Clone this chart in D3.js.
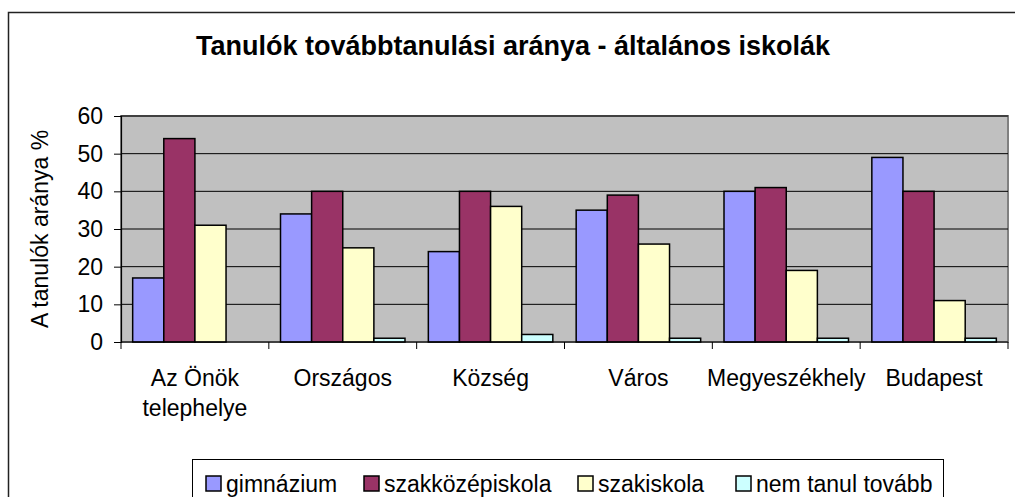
<!DOCTYPE html>
<html>
<head>
<meta charset="utf-8">
<script src="https://cdn.jsdelivr.net/npm/d3@7"></script>
<style>
body { margin: 0; background: #fff; }
svg { display: block; font-family: Arial, "Liberation Sans", sans-serif; }
</style>
</head>
<body>
<svg id="chart" width="1015" height="497"></svg>
<script>
var categories = [["Az Önök", "telephelye"], ["Országos"], ["Község"], ["Város"], ["Megyeszékhely"], ["Budapest"]];
var seriesNames = ["gimnázium", "szakközépiskola", "szakiskola", "nem tanul tovább"];
var seriesColors = ["#9999ff", "#993366", "#ffffcc", "#ccffff"];
var gimnazium = [17, 34, 24, 35, 40, 49];
var szakkozep = [54, 40, 40, 39, 41, 40];
var szakiskola = [31, 25, 36, 26, 19, 11];
var nemTanul = [0, 1, 2, 1, 1, 1];
var yTicks = [0, 10, 20, 30, 40, 50, 60];

var values = [gimnazium, szakkozep, szakiskola, nemTanul];

var svg = d3.select("#chart");
var plot = {left: 121, top: 116, right: 1008, bottom: 342};

// outer frame
svg.append("rect").attr("x", 8.5).attr("y", 12.5).attr("width", 1020).attr("height", 500)
	.style("fill", "#fff").style("stroke", "#222").style("stroke-width", 1.5);

svg.append("text").attr("x", 513).attr("y", 55).attr("text-anchor", "middle")
	.style("font-size", "27px").style("font-weight", "bold")
	.text("Tanulók továbbtanulási aránya - általános iskolák");

var x0 = d3.scaleBand().domain(d3.range(categories.length)).range([plot.left, plot.right]).paddingInner(0);
var x1 = d3.scaleBand().domain(d3.range(seriesNames.length)).range([0, x0.bandwidth()]).paddingOuter(0.375).paddingInner(0);
var y = d3.scaleLinear().domain([0, 60]).range([plot.bottom, plot.top]);

svg.append("rect").attr("x", plot.left).attr("y", plot.top)
	.attr("width", plot.right - plot.left).attr("height", plot.bottom - plot.top)
	.style("fill", "#c0c0c0").style("stroke", "#808080").style("stroke-width", 2);

svg.selectAll("line.grid").data(yTicks.slice(1)).enter().append("line")
	.attr("x1", plot.left).attr("x2", plot.right)
	.attr("y1", function(d) { return y(d); }).attr("y2", function(d) { return y(d); })
	.style("stroke", "#000").style("stroke-width", 1);

var groups = svg.selectAll("g.cat").data(categories).enter().append("g")
	.attr("transform", function(d, i) { return "translate(" + x0(i) + ",0)"; });

groups.each(function(d, ci) {
	var g = d3.select(this);
	seriesNames.forEach(function(s, si) {
		var v = values[si][ci];
		if (v <= 0) return;
		g.append("rect")
			.attr("x", x1(si)).attr("y", y(v))
			.attr("width", x1.bandwidth()).attr("height", y(0) - y(v))
			.style("fill", seriesColors[si]).style("stroke", "#000").style("stroke-width", 1.5);
	});
});

// y axis
var yAxis = d3.axisLeft(y).tickValues(yTicks).tickSize(7).tickPadding(11);
var ya = svg.append("g").attr("transform", "translate(" + plot.left + ",0)").call(yAxis);
ya.select(".domain").style("stroke", "#000").style("stroke-width", 1.2);
ya.selectAll("line").style("stroke", "#000");
ya.selectAll("text").style("font-size", "23px").style("fill", "#000");

// x axis
var xa = svg.append("g");
xa.append("line").attr("x1", plot.left).attr("x2", plot.right).attr("y1", plot.bottom).attr("y2", plot.bottom)
	.style("stroke", "#000").style("stroke-width", 1.2);
xa.selectAll("line.tick").data(d3.range(categories.length + 1)).enter().append("line")
	.attr("x1", function(i) { return plot.left + i * x0.bandwidth(); })
	.attr("x2", function(i) { return plot.left + i * x0.bandwidth(); })
	.attr("y1", plot.bottom).attr("y2", plot.bottom + 7)
	.style("stroke", "#000");
var labels = xa.selectAll("text").data(categories).enter().append("text")
	.attr("text-anchor", "middle")
	.attr("x", function(d, i) { return x0(i) + x0.bandwidth() / 2; })
	.attr("y", 386)
	.style("font-size", "23px");
labels.selectAll("tspan").data(function(d) { return d; }).enter().append("tspan")
	.attr("x", function() { return d3.select(this.parentNode).attr("x"); })
	.attr("dy", function(d, i) { return i === 0 ? 0 : 30; })
	.text(function(d) { return d; });

svg.append("text")
	.attr("transform", "translate(48," + ((plot.top + plot.bottom) / 2) + ") rotate(-90)")
	.attr("text-anchor", "middle").style("font-size", "23px")
	.text("A tanulók aránya %");

// legend
var lg = svg.append("g");
lg.append("rect").attr("x", 192.5).attr("y", 459.5).attr("width", 751).attr("height", 50)
	.style("fill", "#fff").style("stroke", "#000").style("stroke-width", 1);
var legendX = [206, 364, 578, 736];
seriesNames.forEach(function(s, i) {
	lg.append("rect").attr("x", legendX[i]).attr("y", 476).attr("width", 15).attr("height", 15)
		.style("fill", seriesColors[i]).style("stroke", "#000").style("stroke-width", 1.5);
	lg.append("text").attr("x", legendX[i] + 20).attr("y", 492).style("font-size", "23px").text(s);
});
</script>
</body>
</html>
